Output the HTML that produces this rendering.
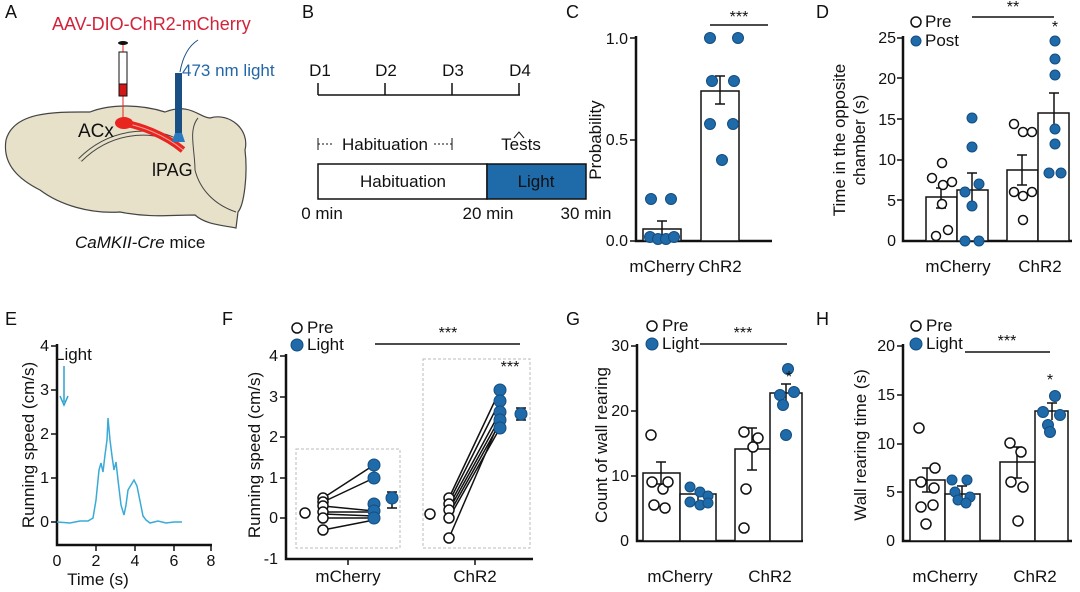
<!DOCTYPE html>
<html><head><meta charset="utf-8"><style>
body{margin:0;background:#fff}
svg{display:block;font-family:"Liberation Sans",sans-serif}
</style></head><body>
<svg width="1080" height="592" viewBox="0 0 1080 592" xmlns="http://www.w3.org/2000/svg">
<defs><style>
.t{font-size:17px;fill:#111}
.k{font-size:16px;fill:#111}
.L{font-size:18px;fill:#111}
.ax{stroke:#111;stroke-width:2.5;fill:none}
.bar{fill:#fff;stroke:#111;stroke-width:1.5}
.o{fill:#fff;stroke:#111;stroke-width:1.5}
.b{fill:#1f6aa8;stroke:#154d80;stroke-width:1}
.ln{stroke:#111;stroke-width:1.5}
</style></defs>

<!-- Panel A -->
<text class="L" x="5" y="18">A</text>
<path d="M6,140 C14,110 60,112 90,112 C110,104 140,104 165,112 C190,102 200,118 210,118 C230,112 250,130 245,150 C248,175 244,205 238,212 L236,228 C220,225 205,224 195,215 C170,215 150,218 120,212 C90,214 60,205 40,190 C20,180 2,165 6,140 Z" fill="#e7e1c9" stroke="#444" stroke-width="1.2"/>
<path d="M198,118 C188,130 195,150 195,170 C200,190 215,205 236,212" fill="none" stroke="#444" stroke-width="1"/>
<path d="M80,160 C110,130 150,128 175,140" fill="none" stroke="#444" stroke-width="5"/>
<path d="M80,160 C110,130 150,128 175,140" fill="none" stroke="#e7e1c9" stroke-width="3"/>
<path d="M118,122 C140,125 165,135 183,150" fill="none" stroke="#e8251f" stroke-width="7"/>
<path d="M118,122 C140,125 165,135 183,150" fill="none" stroke="#f5a0a0" stroke-width="1"/>
<ellipse cx="124" cy="123" rx="9" ry="6" fill="#e8251f"/>
<line x1="123" y1="42" x2="123" y2="120" stroke="#e8251f" stroke-width="1"/>
<rect x="119" y="52" width="8" height="44" fill="#fff" stroke="#111"/>
<rect x="119" y="84" width="8" height="12" fill="#d01818" stroke="#111"/>
<ellipse cx="123" cy="43" rx="5" ry="2" fill="#111"/>
<rect x="175" y="73" width="7" height="60" fill="#1a4f84"/>
<path d="M175,133 L182,133 L185,142 L172,142 Z" fill="#2a7ac0"/>
<path d="M180,72 C183,55 190,45 198,40" fill="none" stroke="#1a4f84" stroke-width="1"/>
<text x="52" y="30" style="font-size:18px;fill:#d2233a">AAV-DIO-ChR2-mCherry</text>
<text x="182" y="76" style="font-size:17px;fill:#2266a8">473 nm light</text>
<text x="78" y="137" style="font-size:19px;fill:#111">ACx</text>
<text x="152" y="176" style="font-size:18px;fill:#111">lPAG</text>
<text x="75" y="248" class="t"><tspan font-style="italic">CaMKII-Cre</tspan> mice</text>

<!-- Panel B -->
<text class="L" x="302" y="18">B</text>
<line x1="318" y1="95" x2="520" y2="95" class="ln"/>
<g class="ln"><line x1="318" y1="83" x2="318" y2="95"/><line x1="385" y1="83" x2="385" y2="95"/><line x1="452" y1="83" x2="452" y2="95"/><line x1="519" y1="83" x2="519" y2="95"/></g>
<g class="t" text-anchor="middle"><text x="320" y="76">D1</text><text x="386" y="76">D2</text><text x="453" y="76">D3</text><text x="520" y="76">D4</text></g>
<line x1="318" y1="144" x2="452" y2="144" stroke="#111" stroke-dasharray="2,2"/>
<line x1="318" y1="138" x2="318" y2="150" stroke="#111"/><line x1="452" y1="138" x2="452" y2="150" stroke="#111"/>
<rect x="334" y="134" width="100" height="18" fill="#fff"/>
<text class="t" x="385" y="150" text-anchor="middle">Habituation</text>
<path d="M514,138 L519,132 L524,138" fill="none" stroke="#111"/>
<text class="t" x="521" y="150" text-anchor="middle">Tests</text>
<rect x="318" y="164" width="169" height="35" fill="#fff" stroke="#111" stroke-width="1.5"/>
<rect x="487" y="164" width="99" height="35" fill="#1f6aa8" stroke="#111" stroke-width="1.5"/>
<text class="t" x="403" y="187" text-anchor="middle">Habituation</text>
<text class="t" x="536" y="187" text-anchor="middle">Light</text>
<g class="t" text-anchor="middle"><text x="322" y="219">0 min</text><text x="488" y="219">20 min</text><text x="586" y="219">30 min</text></g>

<!-- Panel C -->
<text class="L" x="566" y="18">C</text>
<path class="ax" d="M636,36 V241 H772"/>
<g class="ln"><line x1="630" y1="38" x2="636" y2="38"/><line x1="630" y1="140" x2="636" y2="140"/><line x1="630" y1="241" x2="636" y2="241"/></g>
<g class="k" text-anchor="end"><text x="628" y="44">1.0</text><text x="628" y="145">0.5</text><text x="628" y="246">0.0</text></g>
<text class="t" transform="translate(601,140) rotate(-90)" text-anchor="middle">Probability</text>
<rect class="bar" x="643" y="229" width="38" height="12"/>
<rect class="bar" x="701" y="91" width="38" height="150"/>
<g class="ln"><line x1="662" y1="221" x2="662" y2="236"/><line x1="657" y1="221" x2="667" y2="221"/>
<line x1="720" y1="76" x2="720" y2="104"/><line x1="715" y1="76" x2="725" y2="76"/><line x1="715" y1="104" x2="725" y2="104"/></g>
<g class="b"><circle cx="650" cy="237" r="5.5"/><circle cx="658" cy="239" r="5.5"/><circle cx="666" cy="239" r="5.5"/><circle cx="674" cy="237" r="5.5"/><circle cx="651" cy="199" r="5.5"/><circle cx="671" cy="199" r="5.5"/>
<circle cx="710" cy="38" r="5.5"/><circle cx="738" cy="38" r="5.5"/><circle cx="712" cy="81" r="5.5"/><circle cx="734" cy="81" r="5.5"/><circle cx="710" cy="124" r="5.5"/><circle cx="733" cy="124" r="5.5"/><circle cx="722" cy="160" r="5.5"/></g>
<line x1="710" y1="25" x2="768" y2="25" class="ln"/>
<text class="k" x="739" y="22" text-anchor="middle">***</text>
<g class="t" text-anchor="middle"><text x="662" y="272">mCherry</text><text x="720" y="272">ChR2</text></g>

<!-- Panel D -->
<text class="L" x="816" y="18">D</text>
<path class="ax" d="M903,36 V241 H1072"/>
<g class="ln"><line x1="897" y1="38" x2="903" y2="38"/><line x1="897" y1="78" x2="903" y2="78"/><line x1="897" y1="119" x2="903" y2="119"/><line x1="897" y1="160" x2="903" y2="160"/><line x1="897" y1="200" x2="903" y2="200"/></g>
<g class="k" text-anchor="end"><text x="896" y="43">25</text><text x="896" y="84">20</text><text x="896" y="125">15</text><text x="896" y="165">10</text><text x="896" y="206">5</text><text x="896" y="246">0</text></g>
<text class="t" transform="translate(845,140) rotate(-90)" text-anchor="middle">Time in the opposite</text>
<text class="t" transform="translate(865,140) rotate(-90)" text-anchor="middle">chamber (s)</text>
<rect class="bar" x="926" y="197" width="31" height="44"/>
<rect class="bar" x="957" y="190" width="31" height="51"/>
<rect class="bar" x="1007" y="170" width="31" height="71"/>
<rect class="bar" x="1038" y="113" width="31" height="128"/>
<g class="ln"><line x1="941" y1="188" x2="941" y2="208"/><line x1="936" y1="188" x2="946" y2="188"/><line x1="936" y1="208" x2="946" y2="208"/>
<line x1="972" y1="173" x2="972" y2="205"/><line x1="967" y1="173" x2="977" y2="173"/>
<line x1="1022" y1="155" x2="1022" y2="185"/><line x1="1017" y1="155" x2="1027" y2="155"/><line x1="1017" y1="185" x2="1027" y2="185"/>
<line x1="1054" y1="93" x2="1054" y2="133"/><line x1="1049" y1="93" x2="1059" y2="93"/></g>
<g class="o"><circle cx="942" cy="163" r="4.5"/><circle cx="932" cy="178" r="4.5"/><circle cx="952" cy="182" r="4.5"/><circle cx="943" cy="185" r="4.5"/><circle cx="942" cy="204" r="4.5"/><circle cx="948" cy="230" r="4.5"/><circle cx="936" cy="236" r="4.5"/>
<circle cx="1014" cy="124" r="4.5"/><circle cx="1023" cy="132" r="4.5"/><circle cx="1032" cy="132" r="4.5"/><circle cx="1014" cy="192" r="4.5"/><circle cx="1023" cy="196" r="4.5"/><circle cx="1032" cy="192" r="4.5"/><circle cx="1023" cy="220" r="4.5"/></g>
<g class="b"><circle cx="972" cy="118" r="5"/><circle cx="972" cy="147" r="5"/><circle cx="965" cy="192" r="5"/><circle cx="979" cy="184" r="5"/><circle cx="972" cy="206" r="5"/><circle cx="965" cy="241" r="5"/><circle cx="979" cy="241" r="5"/>
<circle cx="1055" cy="41" r="5"/><circle cx="1055" cy="59" r="5"/><circle cx="1055" cy="75" r="5"/><circle cx="1055" cy="129" r="5"/><circle cx="1055" cy="144" r="5"/><circle cx="1049" cy="173" r="5"/><circle cx="1061" cy="173" r="5"/></g>
<circle class="o" cx="916" cy="22" r="5"/><circle class="b" cx="916" cy="41" r="5"/>
<text class="t" x="925" y="27">Pre</text><text class="t" x="925" y="46">Post</text>
<line x1="972" y1="17" x2="1054" y2="17" class="ln"/>
<text class="k" x="1013" y="12" text-anchor="middle">**</text>
<text class="k" x="1055" y="32" text-anchor="middle">*</text>
<g class="t" text-anchor="middle"><text x="958" y="272">mCherry</text><text x="1040" y="272">ChR2</text></g>

<!-- Panel E -->
<text class="L" x="5" y="325">E</text>
<path class="ax" d="M57,344 V545 H212"/>
<g class="ln"><line x1="51" y1="346" x2="57" y2="346"/><line x1="51" y1="390" x2="57" y2="390"/><line x1="51" y1="434" x2="57" y2="434"/><line x1="51" y1="478" x2="57" y2="478"/><line x1="51" y1="522" x2="57" y2="522"/>
<line x1="96" y1="545" x2="96" y2="551"/><line x1="135" y1="545" x2="135" y2="551"/><line x1="174" y1="545" x2="174" y2="551"/><line x1="211" y1="545" x2="211" y2="551"/></g>
<g class="k" text-anchor="end"><text x="49" y="351">4</text><text x="49" y="395">3</text><text x="49" y="439">2</text><text x="49" y="483">1</text><text x="49" y="527">0</text></g>
<g class="k" text-anchor="middle"><text x="57" y="566">0</text><text x="96" y="566">2</text><text x="135" y="566">4</text><text x="174" y="566">6</text><text x="211" y="566">8</text></g>
<text class="t" x="98" y="585" text-anchor="middle">Time (s)</text>
<text class="t" transform="translate(34,445) rotate(-90)" text-anchor="middle">Running speed (cm/s)</text>
<text class="t" x="55" y="360">Light</text>
<line x1="64" y1="366" x2="64" y2="402" stroke="#2aa0d0" stroke-width="1.5"/><path d="M60,396 L64,405 L68,396" fill="none" stroke="#2aa0d0" stroke-width="1.5"/>
<path d="M57,522 L70,523 L80,521 L88,521 L93,518 L96,500 L99,470 L101,463 L103,472 L105,455 L107,440 L108,418 L110,440 L112,456 L114,470 L116,462 L118,480 L121,505 L124,515 L126,505 L128,490 L131,485 L134,480 L137,486 L139,496 L141,506 L143,516 L146,520 L150,523 L158,521 L166,523 L174,522 L182,522" fill="none" stroke="#3aaad8" stroke-width="1.5"/>

<!-- Panel F -->
<text class="L" x="222" y="325">F</text>
<path class="ax" d="M286,354 V559 H533"/>
<g class="ln"><line x1="280" y1="356" x2="286" y2="356"/><line x1="280" y1="397" x2="286" y2="397"/><line x1="280" y1="437" x2="286" y2="437"/><line x1="280" y1="478" x2="286" y2="478"/><line x1="280" y1="518" x2="286" y2="518"/><line x1="348" y1="559" x2="348" y2="565"/><line x1="475" y1="559" x2="475" y2="565"/></g>
<g class="k" text-anchor="end"><text x="278" y="361">4</text><text x="278" y="402">3</text><text x="278" y="442">2</text><text x="278" y="483">1</text><text x="278" y="523">0</text><text x="278" y="564">-1</text></g>
<text class="t" transform="translate(260,455) rotate(-90)" text-anchor="middle">Running speed (cm/s)</text>
<rect x="296" y="449" width="104" height="99" fill="none" stroke="#bbb" stroke-dasharray="3,2"/>
<rect x="423" y="359" width="107" height="189" fill="none" stroke="#bbb" stroke-dasharray="3,2"/>
<g class="ln" stroke-width="1">
<line x1="323" y1="498" x2="374" y2="465"/><line x1="323" y1="502" x2="374" y2="478"/><line x1="323" y1="506" x2="374" y2="511"/><line x1="323" y1="512" x2="374" y2="512"/><line x1="323" y1="514" x2="374" y2="516"/><line x1="323" y1="518" x2="374" y2="518"/><line x1="323" y1="530" x2="374" y2="520"/>
<line x1="449" y1="498" x2="500" y2="390"/><line x1="449" y1="502" x2="500" y2="401"/><line x1="449" y1="506" x2="500" y2="412"/><line x1="449" y1="510" x2="500" y2="418"/><line x1="449" y1="514" x2="500" y2="423"/><line x1="449" y1="518" x2="500" y2="428"/><line x1="449" y1="538" x2="500" y2="420"/>
<line x1="305" y1="508" x2="305" y2="518"/><line x1="392" y1="492" x2="392" y2="508"/><line x1="387" y1="492" x2="397" y2="492"/><line x1="387" y1="508" x2="397" y2="508"/>
<line x1="430" y1="509" x2="430" y2="520"/><line x1="521" y1="408" x2="521" y2="420"/><line x1="516" y1="408" x2="526" y2="408"/><line x1="516" y1="420" x2="526" y2="420"/></g>
<g class="o"><circle cx="323" cy="498" r="5"/><circle cx="323" cy="502" r="5"/><circle cx="323" cy="506" r="5"/><circle cx="323" cy="512" r="5"/><circle cx="323" cy="518" r="5"/><circle cx="323" cy="530" r="5"/><circle cx="305" cy="513" r="5"/>
<circle cx="449" cy="498" r="5"/><circle cx="449" cy="504" r="5"/><circle cx="449" cy="510" r="5"/><circle cx="449" cy="518" r="5"/><circle cx="449" cy="538" r="5"/><circle cx="430" cy="514" r="5"/></g>
<g class="b"><circle cx="374" cy="465" r="6"/><circle cx="374" cy="478" r="6"/><circle cx="374" cy="504" r="6"/><circle cx="374" cy="511" r="6"/><circle cx="374" cy="518" r="6"/><circle cx="392" cy="498" r="6"/>
<circle cx="500" cy="390" r="6"/><circle cx="500" cy="401" r="6"/><circle cx="500" cy="412" r="6"/><circle cx="500" cy="420" r="6"/><circle cx="500" cy="428" r="6"/><circle cx="521" cy="414" r="6"/></g>
<circle class="o" cx="297" cy="328" r="5"/><circle class="b" cx="297" cy="345" r="6"/>
<text class="t" x="307" y="333">Pre</text><text class="t" x="307" y="350">Light</text>
<line x1="375" y1="344" x2="520" y2="344" class="ln"/>
<text class="k" x="448" y="338" text-anchor="middle">***</text>
<text class="k" x="510" y="372" text-anchor="middle">***</text>
<g class="t" text-anchor="middle"><text x="348" y="582">mCherry</text><text x="475" y="582">ChR2</text></g>

<!-- Panel G -->
<text class="L" x="566" y="325">G</text>
<path class="ax" d="M637,344 V541 H803"/>
<g class="ln"><line x1="631" y1="346" x2="637" y2="346"/><line x1="631" y1="411" x2="637" y2="411"/><line x1="631" y1="476" x2="637" y2="476"/></g>
<g class="k" text-anchor="end"><text x="629" y="351">30</text><text x="629" y="416">20</text><text x="629" y="481">10</text><text x="629" y="546">0</text></g>
<text class="t" transform="translate(607,445) rotate(-90)" text-anchor="middle">Count of wall rearing</text>
<rect class="bar" x="643" y="473" width="37" height="68"/>
<rect class="bar" x="680" y="494" width="36" height="47"/>
<rect class="bar" x="735" y="449" width="35" height="92"/>
<rect class="bar" x="770" y="393" width="32" height="148"/>
<g class="ln"><line x1="661" y1="462" x2="661" y2="484"/><line x1="656" y1="462" x2="666" y2="462"/><line x1="656" y1="484" x2="666" y2="484"/>
<line x1="698" y1="488" x2="698" y2="500"/><line x1="752" y1="428" x2="752" y2="470"/><line x1="747" y1="428" x2="757" y2="428"/><line x1="747" y1="470" x2="757" y2="470"/>
<line x1="786" y1="384" x2="786" y2="402"/><line x1="781" y1="384" x2="791" y2="384"/></g>
<g class="o"><circle cx="651" cy="435" r="5"/><circle cx="652" cy="482" r="5"/><circle cx="663" cy="489" r="5"/><circle cx="668" cy="482" r="5"/><circle cx="654" cy="505" r="5"/><circle cx="665" cy="508" r="5"/>
<circle cx="744" cy="432" r="5"/><circle cx="758" cy="438" r="5"/><circle cx="753" cy="447" r="5"/><circle cx="746" cy="489" r="5"/><circle cx="744" cy="528" r="5"/></g>
<g class="b"><circle cx="690" cy="487" r="5"/><circle cx="700" cy="492" r="5"/><circle cx="708" cy="496" r="5"/><circle cx="690" cy="502" r="5"/><circle cx="700" cy="505" r="5"/><circle cx="708" cy="503" r="5"/>
<circle cx="788" cy="369" r="5.5"/><circle cx="794" cy="392" r="5.5"/><circle cx="780" cy="395" r="5.5"/><circle cx="783" cy="405" r="5.5"/><circle cx="786" cy="435" r="5.5"/></g>
<circle class="o" cx="652" cy="326" r="5"/><circle class="b" cx="652" cy="344" r="6"/>
<text class="t" x="662" y="331">Pre</text><text class="t" x="662" y="349">Light</text>
<line x1="700" y1="344" x2="787" y2="344" class="ln"/>
<text class="k" x="743" y="338" text-anchor="middle">***</text>
<text class="k" x="789" y="382" text-anchor="middle">*</text>
<g class="t" text-anchor="middle"><text x="680" y="582">mCherry</text><text x="770" y="582">ChR2</text></g>

<!-- Panel H -->
<text class="L" x="816" y="325">H</text>
<path class="ax" d="M903,344 V541 H1072"/>
<g class="ln"><line x1="897" y1="346" x2="903" y2="346"/><line x1="897" y1="395" x2="903" y2="395"/><line x1="897" y1="444" x2="903" y2="444"/><line x1="897" y1="492" x2="903" y2="492"/></g>
<g class="k" text-anchor="end"><text x="895" y="351">20</text><text x="895" y="400">15</text><text x="895" y="449">10</text><text x="895" y="497">5</text><text x="895" y="546">0</text></g>
<text class="t" transform="translate(866,445) rotate(-90)" text-anchor="middle">Wall rearing time (s)</text>
<rect class="bar" x="910" y="480" width="35" height="61"/>
<rect class="bar" x="945" y="494" width="35" height="47"/>
<rect class="bar" x="1000" y="462" width="35" height="79"/>
<rect class="bar" x="1035" y="411" width="33" height="130"/>
<g class="ln"><line x1="927" y1="468" x2="927" y2="492"/><line x1="922" y1="468" x2="932" y2="468"/><line x1="922" y1="492" x2="932" y2="492"/>
<line x1="962" y1="486" x2="962" y2="502"/><line x1="957" y1="486" x2="967" y2="486"/>
<line x1="1017" y1="447" x2="1017" y2="478"/><line x1="1012" y1="447" x2="1022" y2="447"/><line x1="1012" y1="478" x2="1022" y2="478"/>
<line x1="1052" y1="403" x2="1052" y2="420"/><line x1="1047" y1="403" x2="1057" y2="403"/></g>
<g class="o"><circle cx="919" cy="428" r="5"/><circle cx="935" cy="468" r="5"/><circle cx="921" cy="482" r="5"/><circle cx="934" cy="488" r="5"/><circle cx="921" cy="507" r="5"/><circle cx="933" cy="505" r="5"/><circle cx="926" cy="524" r="5"/>
<circle cx="1010" cy="443" r="5"/><circle cx="1021" cy="452" r="5"/><circle cx="1011" cy="482" r="5"/><circle cx="1023" cy="487" r="5"/><circle cx="1018" cy="521" r="5"/></g>
<g class="b"><circle cx="952" cy="480" r="5"/><circle cx="967" cy="480" r="5"/><circle cx="955" cy="492" r="5"/><circle cx="970" cy="497" r="5"/><circle cx="958" cy="500" r="5"/><circle cx="966" cy="503" r="5"/>
<circle cx="1055" cy="396" r="5.5"/><circle cx="1043" cy="412" r="5.5"/><circle cx="1060" cy="415" r="5.5"/><circle cx="1048" cy="425" r="5.5"/><circle cx="1050" cy="432" r="5.5"/></g>
<circle class="o" cx="916" cy="326" r="5"/><circle class="b" cx="916" cy="344" r="6"/>
<text class="t" x="926" y="331">Pre</text><text class="t" x="926" y="349">Light</text>
<line x1="965" y1="352" x2="1050" y2="352" class="ln"/>
<text class="k" x="1007" y="346" text-anchor="middle">***</text>
<text class="k" x="1050" y="385" text-anchor="middle">*</text>
<g class="t" text-anchor="middle"><text x="945" y="582">mCherry</text><text x="1035" y="582">ChR2</text></g>
</svg>
</body></html>
